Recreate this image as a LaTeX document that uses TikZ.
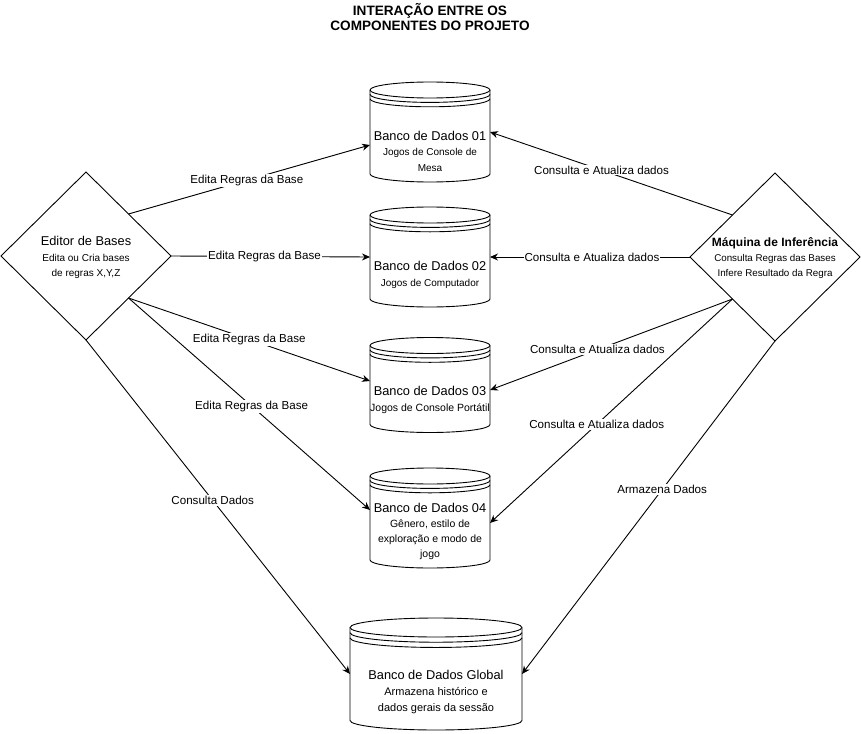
\documentclass[tikz,border=0pt]{standalone}
\usepackage{fontspec}
\setmainfont{Liberation Sans}
\usetikzlibrary{arrows.meta,shapes.geometric,positioning,calc}

% desenho do cilindro de banco de dados (nome do no, meia largura, meia altura da elipse)
\newcommand{\cilindro}[3]{%
  \draw[linha] ([yshift=-#3]#1.north west) arc[start angle=180,end angle=0,x radius=#2,y radius=#3]
    -- ([yshift=#3]#1.south east) arc[start angle=0,end angle=-180,x radius=#2,y radius=#3] -- cycle;
  \foreach \d in {1,1.55,2.1}
    \draw[linha] ([yshift=-\d*#3]#1.north west) arc[start angle=180,end angle=360,x radius=#2,y radius=#3];
}

\begin{document}
\begin{tikzpicture}[x=1pt,y=-1pt]
\tikzset{linha/.style={line width=0.9pt,black}} %traco padrao
\tikzset{seta/.style={linha,-{Stealth[length=8pt,width=7pt]}}}
\tikzset{banco/.style={rectangle,inner sep=0pt,outer sep=0pt,minimum width=120pt,minimum height=100pt}}
\tikzset{losango/.style={diamond,draw,linha,inner sep=0pt,outer sep=0pt,minimum width=170pt,minimum height=168pt}}
\tikzset{rotulo/.style={fill=white,inner sep=1pt,font=\fontsize{11.6}{13}\selectfont}}
\tikzset{texto/.style={align=center,inner sep=0pt,font=\fontsize{10}{15.5}\selectfont}}

\useasboundingbox (0,0) rectangle (861,733);

% titulo
\node[texto,font=\fontsize{13.6}{15}\selectfont\bfseries] (titulo) at (430,17.5) {INTERAÇÃO ENTRE OS\\COMPONENTES DO PROJETO};

% bancos de dados
\node[banco] (db1) at (430,132) {};
\node[banco] (db2) at (430,257) {};
\node[banco,minimum height=95pt] (db3) at (430,385) {};
\node[banco] (db4) at (430,518) {};
\node[banco,minimum width=172pt,minimum height=112pt] (dbg) at (436,674) {};
\cilindro{db1}{60pt}{8pt}
\cilindro{db2}{60pt}{8pt}
\cilindro{db3}{60pt}{8pt}
\cilindro{db4}{60pt}{8pt}
\cilindro{dbg}{86pt}{9.5pt}

\node[texto] (db1-txt) at (430,151) {\fontsize{12.8}{15}\selectfont Banco de Dados 01\\
  Jogos de Console de\\ Mesa};
\node[texto] (db2-txt) at (430,275) {\fontsize{12.8}{15}\selectfont Banco de Dados 02\\
  Jogos de Computador};
\node[texto] (db3-txt) at (430,400) {\fontsize{12.8}{15}\selectfont Banco de Dados 03\\
  \fontsize{10.5}{15}\selectfont Jogos de Console Portátil};
\node[texto,font=\fontsize{10.5}{15}\selectfont] (db4-txt) at (430,531) {\fontsize{12.8}{15}\selectfont Banco de Dados 04\\
  Gênero, estilo de\\ exploração e modo de\\ jogo};
\node[texto,font=\fontsize{11}{16}\selectfont] (dbg-txt) at (436,692) {\fontsize{12.8}{15}\selectfont Banco de Dados Global\\
  Armazena histórico e\\ dados gerais da sessão};

% losangos
\node[losango] (ed) at (86,256) {};
\node[losango] (mi) at (775,257) {};
\node[texto] (ed-txt) at (86,257.5) {\fontsize{12.8}{15}\selectfont Editor de Bases\\
  Edita ou Cria bases\\ de regras X,Y,Z};
\node[texto,font=\fontsize{9.8}{15}\selectfont] (mi-txt) at (775,258) {\fontsize{12}{15}\selectfont\bfseries Máquina de Inferência\\
  Consulta Regras das Bases\\ Infere Resultado da Regra};

% ligacoes do editor
\draw[seta] (ed.north east) -- ([yshift=-13pt]db1.west) node[rotulo,pos=.49] {Edita Regras da Base};
\draw[seta] (ed.east) -- (db2.west) node[rotulo,pos=.47] {Edita Regras da Base};
\draw[seta] (ed.south east) -- ([yshift=4pt]db3.west) node[rotulo,pos=.5] {Edita Regras da Base};
\draw[seta] (ed.south east) -- ([yshift=8pt]db4.west) node[rotulo,pos=.51] {Edita Regras da Base};
\draw[seta] (ed.south) -- (dbg.west) node[rotulo,pos=.48] {Consulta Dados};

% ligacoes da maquina
\draw[seta] (mi.north west) -- (db1.east) node[rotulo,pos=.54] {Consulta e Atualiza dados};
\draw[seta] (mi.west) -- (db2.east) node[rotulo,pos=.49] {Consulta e Atualiza dados};
\draw[seta] (mi.south west) -- ([yshift=-5pt]db3.east) node[rotulo,pos=.557] {Consulta e Atualiza dados};
\draw[seta] (mi.south west) -- ([yshift=-5pt]db4.east) node[rotulo,pos=.56] {Consulta e Atualiza dados};
\draw[seta] (mi.south) -- (dbg.east) node[rotulo,pos=.446] {Armazena Dados};
\end{tikzpicture}
\end{document}
